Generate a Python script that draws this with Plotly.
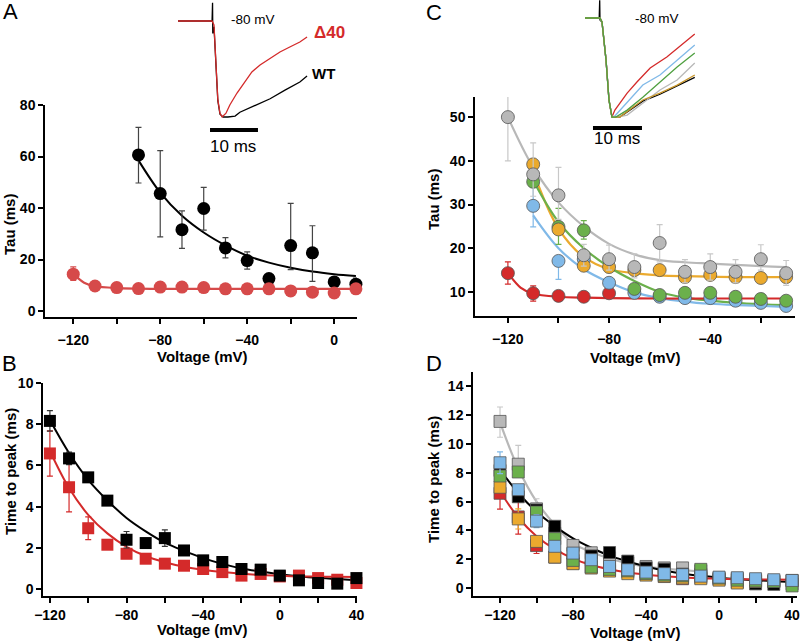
import plotly.graph_objects as go

W, H = 800, 643
FONT = 'Liberation Sans, Arial, sans-serif'

RED_A = '#D64A4A'
RED = '#D42A2A'
GRAY = '#B8B8B8'
ORANGE = '#EBAA2E'
GREEN = '#6BB04B'
BLUE = '#80B9E8'

# ---- Panel A: inactivation tau (ms) vs voltage, WT and Δ40 ----
A_WT_V = [-90, -80, -70, -60, -50, -40, -30, -20, -10, 0, 10]
A_WT_TAU = [60.6, 45.6, 31.6, 39.8, 24.5, 19.6, 12.6, 25.4, 22.6, 11.3, 10.4]
A_WT_UP = [10.7, 16.7, 7.3, 8.2, 4.0, 3.4, 0, 16.4, 10.5, 0, 2.4]
A_WT_DN = [10.9, 16.8, 7.3, 8.4, 3.9, 3.3, 0, 9.3, 11.1, 0, 0]
A_WT_FIT = [58.5, 46.0, 37.0, 30.5, 25.5, 21.5, 18.8, 16.8, 15.3, 14.3, 13.6]

A_D40_V = [-120, -110, -100, -90, -80, -70, -60, -50, -40, -30, -20, -10, 0, 10]
A_D40_TAU = [14.3, 9.7, 9.1, 8.7, 9.3, 9.3, 9.1, 8.6, 8.6, 8.6, 7.8, 7.3, 7.0, 8.6]
A_D40_UP = [2.8, 0, 0, 0, 0, 0, 0, 0, 0, 0, 0, 0, 0, 0]
A_D40_DN = [2.4, 0, 0, 0, 0, 0, 0, 0, 0, 0, 0, 0, 0, 0]
A_D40_FIT_V = [-120, -115, -110, -100, -90, -80, -60, -40, -20, 0, 10]
A_D40_FIT = [14.3, 11.0, 9.6, 8.9, 8.7, 8.6, 8.6, 8.6, 8.6, 8.6, 8.6]

# inset A: normalised current traces at -80 mV (time in ms)
INS_A_T_WT = [0, 2.5, 5.6, 7.1, 7.2, 7.25, 7.5, 7.9, 8.3, 8.75, 9.4, 10.4, 11.9, 12.9,
              16.0, 19.2, 22.3, 25.4, 26.9]
INS_A_I_WT = [0, 0, 0, 0, 0.19, -0.13, -0.06, -0.42, -0.83, -0.97, -1.0, -1.0, -0.99, -0.95,
              -0.885, -0.81, -0.72, -0.635, -0.573]
INS_A_T_D40 = [0, 2.5, 5.6, 7.1, 7.5, 7.9, 8.3, 8.75, 9.2, 10.0, 10.8, 12.3, 14.0, 15.4,
               17.1, 19.2, 21.25, 23.3, 25.4, 26.9]
INS_A_I_D40 = [0, 0, 0, 0, -0.04, -0.40, -0.82, -0.96, -1.0, -0.96, -0.875, -0.75, -0.625,
               -0.53, -0.458, -0.385, -0.323, -0.271, -0.219, -0.167]

# ---- Panel B: time to peak (ms), WT and Δ40 ----
B_V = [-120, -110, -100, -90, -80, -70, -60, -50, -40, -30, -20, -10, 0, 10, 20, 30, 40]
B_WT = [8.16, 6.34, 5.42, 4.29, 2.39, 2.23, 2.47, 1.87, 1.39, 1.31, 0.97, 0.94, 0.65,
        0.42, 0.29, 0.26, 0.53]
B_WT_ERR = [0.5, 0.3, 0, 0, 0.4, 0, 0.4, 0, 0, 0, 0, 0, 0, 0, 0, 0, 0]
B_WT_FIT = [8.2, 6.6, 5.3, 4.3, 3.45, 2.8, 2.25, 1.85, 1.5, 1.22, 1.0, 0.85, 0.72, 0.62,
            0.54, 0.48, 0.43]
B_D40 = [6.58, 4.94, 2.95, 2.15, 1.71, 1.47, 1.23, 1.13, 0.97, 0.82, 0.65, 0.73, 0.61,
         0.65, 0.53, 0.45, 0.29]
B_D40_ERR = [1.1, 1.2, 0.55, 0, 0, 0, 0, 0, 0, 0, 0, 0, 0, 0, 0, 0, 0]
B_D40_FIT = [6.7, 4.9, 3.6, 2.7, 2.05, 1.6, 1.3, 1.08, 0.93, 0.82, 0.74, 0.68, 0.64, 0.61,
             0.6, 0.59, 0.58]

# ---- Panel C: tau (ms) for the mutant series ----
C_V = [-120, -110, -100, -90, -80, -70, -60, -50, -40, -30, -20, -10]
C_GRAY = [50.0, 36.9, 32.1, 18.4, 17.5, 15.7, 21.2, 14.6, 15.7, 14.6, 17.5, 14.3]
C_GRAY_UP = [5.2, 7.2, 6.4, 2.5, 3.2, 3.0, 4.2, 2.8, 3.0, 2.8, 3.3, 2.9]
C_GRAY_DN = [10.0, 5.0, 5.5, 2.5, 2.5, 2.5, 4.3, 2.5, 3.0, 2.5, 2.5, 2.8]
C_GRAY_FIT = [50.0, 38.5, 30.5, 25.0, 21.0, 18.6, 17.3, 16.8, 16.5, 16.2, 15.9, 15.7]
C_ORANGE = [None, 39.2, 24.3, 16.0, 15.7, 15.0, 15.0, 13.4, 13.9, 13.4, 13.2, 13.4]
C_ORANGE_FIT = [None, 37.5, 24.5, 18.0, 15.2, 14.3, 13.8, 13.6, 13.5, 13.4, 13.4, 13.4]
C_GREEN = [None, 35.2, 24.9, 24.1, None, 10.7, 9.3, 9.8, 9.8, 8.9, 8.4, 8.0]
C_GREEN_UP = [0, 0, 4.2, 2.2, 0, 0, 0, 0, 0, 0, 0, 0]
C_GREEN_DN = [0, 0, 4.0, 2.0, 0, 0, 0, 0, 0, 0, 0, 0]
C_GREEN_FIT = [None, 35.5, 26.0, 20.0, 15.7, 12.5, 10.0, 8.7, 8.0, 7.5, 7.2, 7.0]
C_BLUE = [None, 29.7, 17.1, 17.5, 12.1, 9.8, 8.9, 8.6, 8.6, 8.0, 7.5, 6.8]
C_BLUE_UP = [0, 4.3, 0, 0, 0, 0, 0, 0, 0, 0, 0, 0]
C_BLUE_DN = [0, 4.8, 4.2, 0, 0, 0, 0, 0, 0, 0, 0, 0]
C_BLUE_FIT = [None, 27.5, 20.0, 15.2, 12.2, 9.9, 8.6, 7.8, 7.3, 7.0, 6.8, 6.6]
C_RED = [14.3, 9.7, 9.1, 8.9, 9.7, None, None, None, None, None, None, None]
C_RED_UP = [2.6, 1.7, 0, 0, 0, 0, 0, 0, 0, 0, 0, 0]
C_RED_DN = [2.5, 1.8, 0, 0, 0, 0, 0, 0, 0, 0, 0, 0]
C_RED_FIT_V = [-120, -115, -110, -100, -90, -80, -60, -40, -20, -10]
C_RED_FIT = [14.3, 11.0, 9.6, 8.9, 8.7, 8.6, 8.5, 8.5, 8.5, 8.5]

# inset C: normalised current traces at -80 mV
INS_C_T_BLACK = [0, 2.9, 3.0, 3.06, 3.47, 4.29, 4.9, 5.5, 7.1, 11.8, 15.3, 18.8, 22.4]
INS_C_I_BLACK = [0, 0, 0.18, -0.02, -0.04, -0.42, -0.83, -1.0, -1.0, -0.84, -0.77, -0.69, -0.60]
INS_C_T = [0, 3.06, 3.47, 4.29, 4.9, 5.5]
INS_C_I = [0, 0, -0.04, -0.424, -0.83, -1.0]
INS_C_T_RED = [6.1, 7.1, 8.6, 10.6, 13.3, 16.7, 20.4, 22.4]
INS_C_I_RED = [-0.929, -0.859, -0.758, -0.646, -0.505, -0.394, -0.242, -0.162]
INS_C_T_BLUE = [5.9, 7.76, 11.8, 15.3, 18.8, 22.4]
INS_C_I_BLUE = [-1.0, -0.9, -0.677, -0.576, -0.424, -0.273]
INS_C_T_GREEN = [6.3, 8.6, 11.8, 15.3, 18.8, 22.4]
INS_C_I_GREEN = [-1.0, -0.93, -0.8, -0.646, -0.495, -0.354]
INS_C_T_GRAY = [6.7, 8.6, 15.3, 18.8, 22.4]
INS_C_I_GRAY = [-1.0, -0.98, -0.727, -0.626, -0.455]
INS_C_T_ORANGE = [5.5, 7.1, 11.8, 15.3, 18.8, 22.4]
INS_C_I_ORANGE = [-1.0, -1.0, -0.828, -0.758, -0.677, -0.576]

# ---- Panel D: time to peak (ms) for the mutant series ----
D_V = B_V
D_GRAY_V = [-120, -110, -100, -90, -80, -70, -60, -50, -40, -30, -20, -10]
D_GRAY = [11.57, 8.6, 5.5, 3.8, 2.96, 2.45, 2.1, 1.75, 1.5, 1.4, 1.4, 1.2]
D_GRAY_UP = [1.0, 1.3, 0.7, 0, 0, 0, 0, 0, 0, 0, 0, 0]
D_GRAY_DN = [1.1, 0, 0, 0, 0, 0, 0, 0, 0, 0, 0, 0]
D_GRAY_FIT = [11.5, 8.3, 6.0, 4.4, 3.1, 2.5, 2.05, 1.72, 1.5, 1.35, 1.25, 1.15]
D_BLUE = [8.7, 6.83, 4.65, 2.9, 2.43, 1.97, 1.5, 1.27, 1.11, 1.0, 0.93, 0.83, 0.76, 0.72,
          0.65, 0.58, 0.53]
D_BLUE_ERR = [0.75, 0, 0.45, 0, 0, 0, 0, 0, 0, 0, 0, 0, 0, 0, 0, 0, 0]
D_GREEN = [7.78, 8.06, 5.28, 3.43, 1.92, 1.46, 1.3, 1.2, 1.0, 0.9, 0.85, 1.3, 0.7, 0.55,
           0.5, 0.45, 0.15]
D_ORANGE = [7.0, 4.8, 3.24, 2.15, 1.69, 1.39, 1.18, 1.0, 0.9, 0.8, 0.7, 0.65, 0.55, 0.35,
            0.45, 0.5, 0.5]
D_ORANGE_ERR = [0, 0.7, 0, 0, 0, 0, 0, 0, 0, 0, 0, 0, 0, 0, 0, 0, 0]


def px_dom_x(a, b):
    return [a / W, b / W]


def px_dom_y(top, bottom):
    return [1 - bottom / H, 1 - top / H]


fig = go.Figure()


def add(x, y, xa, ya, **kw):
    fig.add_trace(go.Scatter(x=x, y=y, xaxis=xa, yaxis=ya, showlegend=False,
                             hoverinfo='skip', cliponaxis=False, **kw))


def err(up, dn, color, width=1.2):
    return dict(type='data', symmetric=False, array=up, arrayminus=dn,
                color=color, thickness=width, width=3)


# Panel A
add(A_WT_V, A_WT_FIT, 'x', 'y', mode='lines', line=dict(color='black', width=2, shape='spline'))
add(A_D40_FIT_V, A_D40_FIT, 'x', 'y', mode='lines',
    line=dict(color=RED_A, width=2.2, shape='spline', smoothing=0.8))
add(A_WT_V, A_WT_TAU, 'x', 'y', mode='markers',
    marker=dict(color='black', size=13), error_y=err(A_WT_UP, A_WT_DN, '#444'))
add(A_D40_V, A_D40_TAU, 'x', 'y', mode='markers',
    marker=dict(color=RED_A, size=13), error_y=err(A_D40_UP, A_D40_DN, RED_A))

# inset A
add(INS_A_T_WT, INS_A_I_WT, 'x5', 'y5', mode='lines', line=dict(color='black', width=1.3))
add(INS_A_T_D40, INS_A_I_D40, 'x5', 'y5', mode='lines', line=dict(color=RED, width=1.3))

# Panel B
add(B_V, B_WT_FIT, 'x2', 'y2', mode='lines', line=dict(color='black', width=2, shape='spline'))
add(B_V, B_D40_FIT, 'x2', 'y2', mode='lines', line=dict(color=RED, width=2, shape='spline'))
add(B_V, B_D40, 'x2', 'y2', mode='markers',
    marker=dict(color=RED, size=12, symbol='square'), error_y=err(B_D40_ERR, B_D40_ERR, RED))
add(B_V, B_WT, 'x2', 'y2', mode='markers',
    marker=dict(color='black', size=12, symbol='square'), error_y=err(B_WT_ERR, B_WT_ERR, '#333'))

# Panel C: fits
add(C_V, C_GRAY_FIT, 'x3', 'y3', mode='lines', line=dict(color=GRAY, width=2.2, shape='spline'))
add(C_V, C_ORANGE_FIT, 'x3', 'y3', mode='lines', line=dict(color=ORANGE, width=2.2, shape='spline'))
add(C_V, C_GREEN_FIT, 'x3', 'y3', mode='lines', line=dict(color=GREEN, width=2.2, shape='spline'))
add(C_V, C_BLUE_FIT, 'x3', 'y3', mode='lines', line=dict(color=BLUE, width=2.2, shape='spline'))
add(C_RED_FIT_V, C_RED_FIT, 'x3', 'y3', mode='lines',
    line=dict(color=RED, width=2.2, shape='spline', smoothing=0.8))
# Panel C: points
mk_c = dict(size=13, line=dict(color='#555', width=0.8))
add(C_V, C_RED, 'x3', 'y3', mode='markers', marker=dict(color=RED, **mk_c),
    error_y=err(C_RED_UP, C_RED_DN, RED))
add(C_V, C_BLUE, 'x3', 'y3', mode='markers', marker=dict(color=BLUE, **mk_c),
    error_y=err(C_BLUE_UP, C_BLUE_DN, BLUE))
add(C_V, C_GREEN, 'x3', 'y3', mode='markers', marker=dict(color=GREEN, **mk_c),
    error_y=err(C_GREEN_UP, C_GREEN_DN, GREEN))
add(C_V, C_ORANGE, 'x3', 'y3', mode='markers', marker=dict(color=ORANGE, **mk_c))
add(C_V, C_GRAY, 'x3', 'y3', mode='markers', marker=dict(color=GRAY, **mk_c),
    error_y=err(C_GRAY_UP, C_GRAY_DN, '#C8C8C8'))

# inset C
add(INS_C_T_BLACK, INS_C_I_BLACK, 'x6', 'y6', mode='lines', line=dict(color='black', width=1.3))
add(INS_C_T + INS_C_T_GRAY, INS_C_I + INS_C_I_GRAY, 'x6', 'y6', mode='lines',
    line=dict(color=GRAY, width=1.3))
add(INS_C_T + INS_C_T_RED, INS_C_I + INS_C_I_RED, 'x6', 'y6', mode='lines',
    line=dict(color=RED, width=1.3))
add(INS_C_T + INS_C_T_BLUE, INS_C_I + INS_C_I_BLUE, 'x6', 'y6', mode='lines',
    line=dict(color=BLUE, width=1.3))
add(INS_C_T + INS_C_T_ORANGE, INS_C_I + INS_C_I_ORANGE, 'x6', 'y6', mode='lines',
    line=dict(color='#C8962A', width=1.3))
add(INS_C_T + INS_C_T_GREEN, INS_C_I + INS_C_I_GREEN, 'x6', 'y6', mode='lines',
    line=dict(color='#4FA040', width=1.3))

# Panel D
add(D_GRAY_V, D_GRAY_FIT, 'x4', 'y4', mode='lines', line=dict(color=GRAY, width=2.2, shape='spline'))
add(D_V, B_WT_FIT, 'x4', 'y4', mode='lines', line=dict(color='black', width=2, shape='spline'))
add(D_V, B_D40_FIT, 'x4', 'y4', mode='lines', line=dict(color=RED, width=2, shape='spline'))
mk_d = dict(size=12, symbol='square', line=dict(color='#555', width=0.8))
add(D_GRAY_V, D_GRAY, 'x4', 'y4', mode='markers', marker=dict(color=GRAY, **mk_d),
    error_y=err(D_GRAY_UP, D_GRAY_DN, '#C8C8C8'))
add(D_V, B_D40, 'x4', 'y4', mode='markers', marker=dict(color=RED, **mk_d),
    error_y=err(B_D40_ERR, B_D40_ERR, RED))
add(D_V, B_WT, 'x4', 'y4', mode='markers', marker=dict(color='black', **mk_d))
add(D_V, D_ORANGE, 'x4', 'y4', mode='markers', marker=dict(color=ORANGE, **mk_d),
    error_y=err(D_ORANGE_ERR, D_ORANGE_ERR, ORANGE))
add(D_V, D_GREEN, 'x4', 'y4', mode='markers', marker=dict(color=GREEN, **mk_d))
add(D_V, D_BLUE, 'x4', 'y4', mode='markers', marker=dict(color=BLUE, **mk_d),
    error_y=err(D_BLUE_ERR, D_BLUE_ERR, BLUE))

tickfont = dict(family=FONT, size=14, color='black', weight='bold')
axis_common = dict(showline=True, linecolor='black', linewidth=1.5, ticks='outside',
                   ticklen=5, tickwidth=1.5, tickcolor='black', showgrid=False,
                   zeroline=False, tickfont=tickfont, fixedrange=True, automargin=False,
                   ticklabeloverflow='allow')
minor = dict(ticks='outside', ticklen=5, tickwidth=1.5, tickcolor='black', dtick=20,
             tick0=0, showgrid=False)
hidden = dict(visible=False, automargin=False, fixedrange=True)

fig.update_layout(
    width=W, height=H, margin=dict(l=0, r=0, t=0, b=0, autoexpand=False),
    paper_bgcolor='white', plot_bgcolor='rgba(0,0,0,0)',
    font=dict(family=FONT, color='black'),
    xaxis=dict(domain=px_dom_x(45, 357), range=[-133, 10.5], anchor='y', dtick=40, tick0=0,
               minor=minor, ticklabelstandoff=4, **axis_common),
    yaxis=dict(domain=px_dom_y(105, 317), range=[-2.33, 80], anchor='x', dtick=20, **axis_common),
    xaxis2=dict(domain=px_dom_x(43, 357), range=[-123.6, 40.3], anchor='y2', dtick=40, tick0=0,
                minor=minor, **axis_common),
    yaxis2=dict(domain=px_dom_y(383, 596), range=[-0.34, 10], anchor='x2', dtick=2, **axis_common),
    xaxis3=dict(domain=px_dom_x(475, 795), range=[-133, -6.5], anchor='y3', dtick=40, tick0=0,
                minor=minor, ticklabelstandoff=4, **axis_common),
    yaxis3=dict(domain=px_dom_y(97, 316), range=[4.5, 54.6], anchor='x3', dtick=10, **axis_common),
    xaxis4=dict(domain=px_dom_x(473, 797), range=[-134.8, 42.7], anchor='y4', dtick=40, tick0=0,
                minor=minor, **axis_common),
    yaxis4=dict(domain=px_dom_y(372, 596), range=[-0.55, 15.0], anchor='x4', dtick=2, **axis_common),
    xaxis5=dict(domain=px_dom_x(170, 320), range=[-1.67, 29.6], anchor='y5', **hidden),
    yaxis5=dict(domain=px_dom_y(0, 160), range=[-1.448, 0.219], anchor='x5', **hidden),
    xaxis6=dict(domain=px_dom_x(575, 705), range=[-2.04, 24.49], anchor='y6', **hidden),
    yaxis6=dict(domain=px_dom_y(0, 150), range=[-1.333, 0.182], anchor='x6', **hidden),
)

# scale bars (10 ms)
fig.add_shape(type='line', xref='x5', yref='y5', x0=6.67, x1=16.67, y0=-1.135, y1=-1.135,
              line=dict(color='black', width=4))
fig.add_shape(type='line', xref='x6', yref='y6', x0=1.63, x1=11.63, y0=-1.111, y1=-1.111,
              line=dict(color='black', width=4))


def note(text, px, py, size=14, bold=False, color='black', angle=0):
    fig.add_annotation(text=text, x=px / W, y=1 - py / H, xref='paper', yref='paper',
                       xanchor='center', yanchor='middle', showarrow=False, textangle=angle,
                       font=dict(family=FONT, size=size, color=color,
                                 weight='bold' if bold else 'normal'))


note('A', 10, 11, size=22)
note('B', 9, 363, size=22)
note('C', 434, 12, size=22)
note('D', 434, 363, size=22)

note('-80 mV', 253, 20, size=13.5)
note('Δ40', 329, 33, size=17, bold=True, color=RED)
note('WT', 323, 73, size=15, bold=True)
note('10 ms', 233, 147, size=17)
note('-80 mV', 657, 18, size=13.5)
note('10 ms', 617, 139, size=17)

note('Voltage (mV)', 203, 356, size=15, bold=True)
note('Voltage (mV)', 203, 629, size=15, bold=True)
note('Voltage (mV)', 635, 357, size=15, bold=True)
note('Voltage (mV)', 635, 632, size=15, bold=True)
note('Tau (ms)', 9, 225, size=15, bold=True, angle=-90)
note('Time to peak (ms)', 10, 472, size=15, bold=True, angle=-90)
note('Tau (ms)', 433, 200, size=15, bold=True, angle=-90)
note('Time to peak (ms)', 433, 480, size=15, bold=True, angle=-90)

# the page's default body margin would push the fixed-size figure off by 8 px
fig.write_html('out.html', config={'displayModeBar': False},
               post_script="document.body.style.margin='0';document.body.style.overflow='hidden';")
